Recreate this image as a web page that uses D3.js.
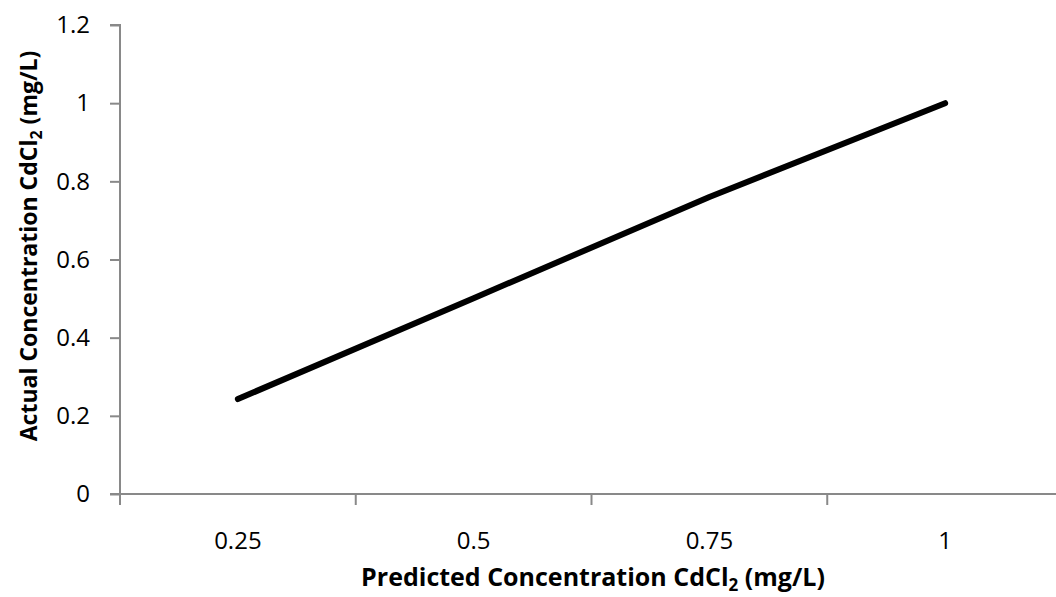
<!DOCTYPE html>
<html><head><meta charset="utf-8">
<script src="https://cdn.jsdelivr.net/npm/d3@7"></script>
<style>
html,body{margin:0;padding:0;background:#fff;}
svg{display:block;}
text{font-family:"Open Sans","Noto Sans",sans-serif;fill:#000;}
</style></head>
<body>
<svg id="chart" width="1056" height="597"></svg>
<script>
const categories = ["0.25", "0.5", "0.75", "1"];
const actualValues = [0.243, 0.501, 0.76, 1.0];
const yTicks = [0, 0.2, 0.4, 0.6, 0.8, 1, 1.2];

const svg = d3.select("#chart");
const x = d3.scaleBand().domain(categories).range([120, 1063]).padding(0);
const y = d3.scaleLinear().domain([0, 1.2]).range([494, 25]);
const axisColor = "#898989";

// Y axis
const yAxis = svg.append("g").attr("transform", "translate(120,0)")
  .call(d3.axisLeft(y).tickValues(yTicks).tickSize(10).tickPadding(20)
    .tickFormat(d => String(+d.toFixed(1))));
yAxis.select(".domain").attr("stroke", axisColor).attr("stroke-width", 2).attr("d", `M-10,${y(1.2)}H0V${y(0)}`);
yAxis.selectAll(".tick line").attr("stroke", axisColor).attr("stroke-width", 2);
yAxis.selectAll(".tick text").attr("font-size", 24).attr("font-family", "Open Sans").attr("fill", "#000");

// X axis
const xAxis = svg.append("g").attr("transform", `translate(0,${y(0)})`)
  .call(d3.axisBottom(x).tickSize(0).tickPadding(38));
xAxis.select(".domain").attr("stroke", axisColor).attr("stroke-width", 2).attr("d", `M110,0H1063`);
xAxis.selectAll(".tick text").attr("font-size", 24).attr("font-family", "Open Sans").attr("fill", "#000");
// category boundary ticks
const bounds = categories.map(c => x(c)).concat([x(categories[categories.length-1]) + x.bandwidth()]);
xAxis.selectAll(".bound").data(bounds).enter().append("line")
  .attr("class", "bound").attr("x1", d => d).attr("x2", d => d)
  .attr("y1", 0).attr("y2", 11).attr("stroke", axisColor).attr("stroke-width", 2);

// Line
const line = d3.line().x((d, i) => x(categories[i]) + x.bandwidth() / 2).y(d => y(d));
svg.append("path").datum(actualValues).attr("d", line)
  .attr("fill", "none").attr("stroke", "#000").attr("stroke-width", 6)
  .attr("stroke-linecap", "round").attr("stroke-linejoin", "round");

// Titles
const xt = svg.append("text").attr("x", 593).attr("y", 586).attr("text-anchor", "middle")
  .attr("font-size", 25).attr("font-weight", "bold");
xt.append("tspan").text("Predicted Concentration CdCl");
xt.append("tspan").text("2").attr("font-size", 17).attr("dy", 5);
xt.append("tspan").text(" (mg/L)").attr("dy", -5);

const yt = svg.append("text").attr("transform", "translate(37,246) rotate(-90)").attr("text-anchor", "middle")
  .attr("font-size", 23).attr("font-weight", "bold");
yt.append("tspan").text("Actual Concentration CdCl");
yt.append("tspan").text("2").attr("font-size", 16).attr("dy", 5);
yt.append("tspan").text(" (mg/L)").attr("dy", -5);
</script>
</body></html>
